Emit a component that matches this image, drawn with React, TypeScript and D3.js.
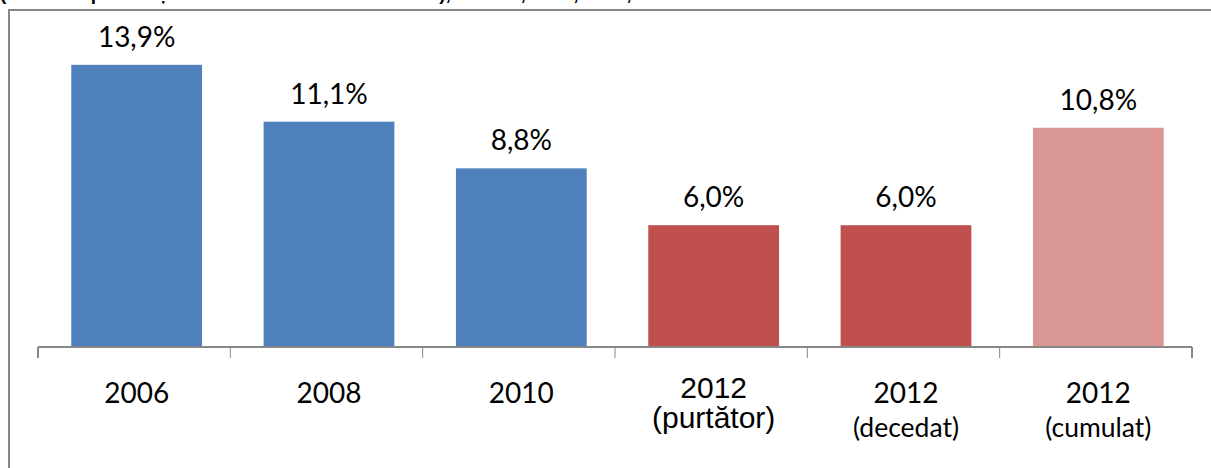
import { useEffect, useRef } from "react";
import * as d3 from "d3";

// data
const yearLabels = ["2006", "2008", "2010", "2012", "2012", "2012"];
const subLabels = ["", "", "", "(purtător)", "(decedat)", "(cumulat)"];
const values = [13.9, 11.1, 8.8, 6.0, 6.0, 10.8];
const barColors = ["#4F81BD", "#4F81BD", "#4F81BD", "#C0504D", "#C0504D", "#D99694"];
const titleText = "(% din respondenți care au avut un caz în familie), în 2006, 2008, 2010, 2012";

export default function App() {
    const svgRef = useRef<SVGSVGElement>(null);

    useEffect(() => {
        if (!svgRef.current) return;

        const W = 1211;
        const H = 468;
        const baseY = 347;
        const axisLeft = 38;
        const axisRight = 1192;
        const barShift = 2.5; // bars sit slightly right of the category centre

        d3.select(svgRef.current).selectAll("*").remove();
        const svg = d3.select(svgRef.current).attr("width", W).attr("height", H);

        svg.append("rect").attr("width", W).attr("height", H).attr("fill", "#fff");

        // title, mostly cut off by the top edge as in the source
        svg.append("text")
            .attr("x", 0)
            .attr("y", 0)
            .attr("font-family", "Liberation Sans, Arial, sans-serif")
            .attr("font-weight", "bold")
            .attr("font-size", 19)
            .attr("fill", "#000")
            .text(titleText);

        // chart frame (left + top border)
        svg.append("path")
            .attr("d", `M9,${H} L9,10 L${W + 2},10`)
            .attr("fill", "none")
            .attr("stroke", "#878787")
            .attr("stroke-width", 2);

        const idx = values.map((_, i) => i);
        const x = d3.scaleBand<number>()
            .domain(idx)
            .range([axisLeft, axisRight])
            .paddingInner(0.32)
            .paddingOuter(0.16);

        const y = d3.scaleLinear().domain([0, 16]).range([baseY, baseY - 16 * 20.3]);

        // bars
        svg.append("g")
            .selectAll("rect")
            .data(values)
            .join("rect")
            .attr("x", (_, i) => x(i)! + barShift)
            .attr("y", (d) => y(d))
            .attr("width", x.bandwidth())
            .attr("height", (d) => y(0) - y(d))
            .attr("fill", (_, i) => barColors[i]);

        // value labels
        svg.append("g")
            .selectAll("text")
            .data(values)
            .join("text")
            .attr("x", (_, i) => x(i)! + barShift + x.bandwidth() / 2)
            .attr("y", (d) => y(d) - 18)
            .attr("text-anchor", "middle")
            .attr("font-family", "Lato, sans-serif")
            .attr("font-size", 28)
            .attr("fill", "#000")
            .text((d) => d.toFixed(1).replace(".", ",") + "%");

        // axis line + ticks at category boundaries
        const step = x.step();
        svg.append("line")
            .attr("x1", axisLeft).attr("x2", axisRight)
            .attr("y1", baseY).attr("y2", baseY)
            .attr("stroke", "#878787").attr("stroke-width", 2);
        svg.append("g")
            .selectAll("line")
            .data(d3.range(values.length + 1))
            .join("line")
            .attr("x1", (i) => axisLeft + i * step)
            .attr("x2", (i) => axisLeft + i * step)
            .attr("y1", baseY)
            .attr("y2", baseY + 11)
            .attr("stroke", "#878787")
            .attr("stroke-width", (i) => (i === 0 || i === values.length ? 2 : 1));

        // category labels
        const cats = svg.append("g");
        idx.forEach((i) => {
            const cx = x(i)! + barShift + x.bandwidth() / 2;
            const arial = i === 3;
            const t = cats.append("text")
                .attr("text-anchor", "middle")
                .attr("font-family", arial ? "Liberation Sans, Arial, sans-serif" : "Lato, sans-serif")
                .attr("fill", "#000");
            t.append("tspan")
                .attr("x", cx)
                .attr("y", arial ? 398 : 403)
                .attr("font-size", arial ? 30 : 28)
                .text(yearLabels[i]);
            if (subLabels[i]) {
                t.append("tspan")
                    .attr("x", cx)
                    .attr("y", arial ? 428 : 437)
                    .attr("font-size", arial ? 30 : 26.5)
                    .text(subLabels[i]);
            }
        });
    }, []);

    return (
        <div style={{ position: "fixed", left: 0, top: 0 }}>
            <svg ref={svgRef} style={{ display: "block" }} />
        </div>
    );
}
